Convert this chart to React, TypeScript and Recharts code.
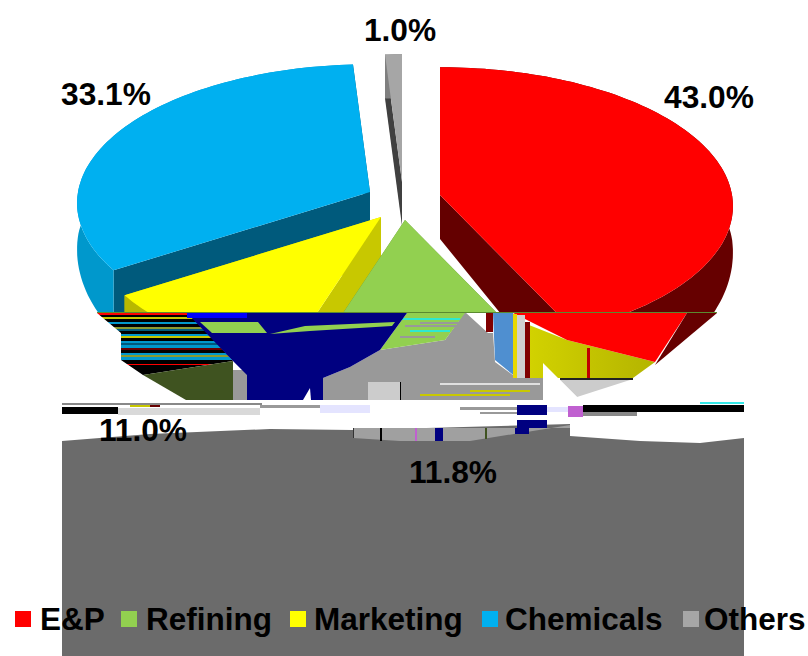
import { Legend, Pie, PieChart } from "recharts";

const sliceNames = ["Others", "Chemicals", "Marketing", "Refining", "E&P"];
const sliceValues = [1.0, 33.1, 11.0, 11.8, 43.0];
const legendOrder = ["E&P", "Refining", "Marketing", "Chemicals", "Others"];

const topColors: Record<string, string> = {
  "E&P": "#FF0000",
  Refining: "#92D050",
  Marketing: "#FFFF00",
  Chemicals: "#00B0F0",
  Others: "#A6A6A6",
};
const innerWallColors: Record<string, string> = {
  "E&P": "#640000",
  Refining: "#5F8A34",
  Marketing: "#C8C800",
  Chemicals: "#005A7C",
  Others: "#404040",
};
const outerWallColors: Record<string, string> = {
  "E&P": "#660000",
  Refining: "#6FA03C",
  Marketing: "#B8B800",
  Chemicals: "#0098CC",
  Others: "#7F7F7F",
};

// how far each slice is pulled out of the pie, in screen pixels
const explode: Record<string, [number, number]> = {
  "E&P": [37, 0],
  Refining: [2, 25],
  Marketing: [-22, 22],
  Chemicals: [-33, -3],
  Others: [-1, -13],
};

const labelSpots: Record<string, [number, number]> = {
  "E&P": [709, 108],
  Refining: [453, 483],
  Marketing: [143, 441],
  Chemicals: [106, 105],
  Others: [400, 41],
};

// left edges of the legend swatches and their names
const legendSwatchX = [15, 121, 290, 482, 683];
const legendTextX = [40, 146, 314, 505, 704];

const data = sliceNames.map((name, i) => ({ name, value: sliceValues[i], fill: topColors[name] }));

// perspective of the tilted disc
const RX = 292;
const RY = 138;
const PERSP = 0.08;
const DEPTH = 44;
const FRONT_DEPTH = 30;

function project(cx: number, cy: number, deg: number) {
  const a = (deg * Math.PI) / 180;
  const u = Math.cos(a);
  const v = -Math.sin(a);
  const s = 1 - PERSP * v;
  return [cx + (RX * u) / s, cy + (RY * v) / s];
}

const pts = (list: number[][]) => list.map((p) => `${p[0].toFixed(1)},${p[1].toFixed(1)}`).join(" ");

// the rim gets deeper towards the viewer
const sink = (list: number[][], oy: number) =>
  list.map((p) => [p[0], p[1] + DEPTH + (FRONT_DEPTH * Math.max(0, p[1] - oy)) / RY]);

function Slice3D(props: any) {
  const { cx, cy, startAngle, endAngle, name } = props;
  const [dx, dy] = explode[name];
  const ox = cx + dx;
  const oy = cy + dy;
  const from = Math.min(startAngle, endAngle);
  const to = Math.max(startAngle, endAngle);
  const arc: number[][] = [];
  for (let d = from; d < to; d += 1.5) arc.push(project(ox, oy, d));
  arc.push(project(ox, oy, to));
  const apex = [ox, oy];
  const first = arc[0];
  const last = arc[arc.length - 1];
  return (
    <g clipPath="url(#aboveTear)">
      <polygon points={pts([apex, first, ...sink([first, apex], oy)])} fill={innerWallColors[name]} />
      <polygon points={pts([apex, last, ...sink([last, apex], oy)])} fill={innerWallColors[name]} />
      <polygon points={pts([...arc, ...sink(arc, oy).reverse()])} fill={outerWallColors[name]} />
      <polygon points={pts([apex, ...arc])} fill={topColors[name]} />
    </g>
  );
}

function sliceLabel(props: any) {
  const [x, y] = labelSpots[props.name];
  return (
    <text x={x} y={y} textAnchor="middle" fontFamily="Liberation Sans" fontWeight="bold" fontSize={31.7} fill="#000">
      {`${props.value.toFixed(1)}%`}
    </text>
  );
}

function LegendRow() {
  return (
    <div style={{ position: "relative", width: 808, height: 38, fontFamily: "Liberation Sans", fontWeight: "bold", fontSize: 31.5, lineHeight: "38px", color: "#000", whiteSpace: "nowrap" }}>
      {legendOrder.map((name, i) => (
        <span key={name}>
          <span style={{ position: "absolute", left: legendSwatchX[i], top: 11, width: 16, height: 16, background: topColors[name] }} />
          <span style={{ position: "absolute", left: legendTextX[i], top: 0 }}>{name}</span>
        </span>
      ))}
    </div>
  );
}

// rows of the broken band under the left of the disc
const stripeRows: [number, number, string][] = [
  [313, 2, "#FF0000"], [315, 2, "#000000"], [317, 2, "#C8C800"], [319, 3, "#000000"], [322, 2, "#0098CC"],
  [324, 3, "#000000"], [327, 2, "#8A9A30"], [329, 2, "#005A7C"], [331, 3, "#000000"], [334, 2, "#0098CC"],
  [336, 2, "#C8C800"], [338, 3, "#000000"], [341, 2, "#0098CC"], [343, 2, "#005A7C"], [345, 3, "#0098CC"],
  [348, 2, "#660000"], [350, 3, "#000000"], [353, 2, "#0098CC"], [355, 2, "#8A9A30"], [357, 3, "#0098CC"],
  [360, 4, "#000000"], [364, 1, "#FF0000"], [365, 12, "#000000"],
];
const greenRows: [number, number, number, string][] = [
  [400, 318, 60, "#2FE8D0"], [405, 325, 55, "#999999"], [410, 330, 40, "#2FE8D0"], [420, 322, 45, "#999999"], [400, 336, 35, "#999999"],
];
const scatterBars: [number, number, number, number, string][] = [
  [62, 403, 200, 2, "#888888"], [62, 407, 56, 7, "#000000"], [118, 408, 142, 7, "#D9D9D9"], [130, 405, 20, 2, "#C8C800"],
  [150, 405, 10, 2, "#660000"], [260, 405, 60, 3, "#999999"], [320, 405, 50, 8, "#E4E4FF"], [460, 407, 57, 3, "#999999"],
  [480, 412, 37, 2, "#999999"], [517, 405, 30, 10, "#000080"], [517, 420, 30, 8, "#000080"], [547, 407, 21, 5, "#E4E4FF"],
  [568, 406, 15, 11, "#C060D0"], [583, 405, 161, 7, "#000000"], [583, 412, 54, 4, "#888888"], [700, 402, 44, 2, "#33E8E8"],
  [435, 428, 8, 13, "#000080"], [380, 428, 2, 13, "#000000"], [415, 428, 2, 13, "#C060D0"], [485, 428, 2, 11, "#3F5320"],
  [515, 428, 14, 6, "#000080"], [353, 428, 1, 10, "#333333"], [400, 382, 1, 18, "#000000"], [587, 348, 3, 30, "#C00000"],
  [517, 315, 8, 63, "#D0D0D0"], [513, 314, 4, 64, "#E8D800"], [525, 322, 5, 56, "#800000"], [486, 313, 7, 19, "#800000"],
  [560, 378, 73, 2, "#222222"], [440, 383, 100, 2, "#E0E0E0"], [470, 390, 60, 2, "#C8C800"], [420, 394, 90, 2, "#C8C800"],
];

function TornBand() {
  return (
    <g>
      <defs>
        <clipPath id="aboveTear">
          <rect x={0} y={0} width={808} height={312} />
        </clipPath>
        <clipPath id="stripeShape">
          <polygon points="97,313 190,313 233,361 143,375 121,360 121,333" />
        </clipPath>
        <linearGradient id="oliveFade" x1="0" y1="0" x2="1" y2="0">
          <stop offset="0" stopColor="#D2D200" />
          <stop offset="1" stopColor="#B4B400" />
        </linearGradient>
      </defs>
      <polygon points="62,441 150,434 270,429 352,430 570,424 570,436 640,441 700,443 744,438 744,656 62,656" fill="#6B6B6B" />
      <polygon points="353,428 570,428 570,425 470,441 400,441 353,438" fill="#A0A0A0" />
      <g clipPath="url(#stripeShape)">
        {stripeRows.map(([y, h, c]) => (
          <rect key={y} x={90} y={y} width={150} height={h} fill={c} />
        ))}
      </g>
      <polygon points="143,375 233,361 233,400 186,400" fill="#3F5320" />
      <polygon points="465,312 488,333 493,333 495,362 517,378 543,378 543,400 323,400 323,378 350,367 380,350 445,340" fill="#999999" />
      <polygon points="407,313 465,313 445,340 380,350" fill="#92D050" />
      {greenRows.map(([x, y, w, c]) => (
        <rect key={`${x}-${y}`} x={x} y={y} width={w} height={2} fill={c} />
      ))}
      <rect x={233} y={370} width={14} height={30} fill="#999999" />
      <polygon points="187,313 407,313 380,350 350,367 323,378 323,400 247,400 247,375 233,361" fill="#000080" />
      <rect x={187} y={313} width={60} height={5} fill="#0000FF" />
      <polygon points="200,322 258,322 267,333 212,333" fill="#92D050" />
      <polygon points="270,334 305,326 395,322 392,326 310,331" fill="#92D050" />
      <polygon points="303,400 310,388 311,400" fill="#FFFFFF" />
      <rect x={368} y={382} width={32} height={18} fill="#CCCCCC" />
      <polygon points="493,313 513,313 517,378 495,360" fill="#4F8FD0" />
      <polygon points="529,325 567,340 655,362 633,378 543,378 530,378" fill="url(#oliveFade)" />
      <polygon points="513,313 687,313 655,362 567,340" fill="#FF0000" />
      <polygon points="687,313 717,313 655,365" fill="#660000" />
      <polygon points="560,380 630,380 577,397" fill="#CCCCCC" />
      <polygon points="543,363 577,397 543,400" fill="#FFFFFF" />
      <rect x={97} y={312} width={620} height={1} fill="#5A8A30" />
      {scatterBars.map(([x, y, w, h, c]) => (
        <rect key={`${x}-${y}-${c}`} x={x} y={y} width={w} height={h} fill={c} />
      ))}
    </g>
  );
}

export default function App() {
  return (
    <div style={{ position: "absolute", left: 0, top: 0, width: 808, height: 656 }}>
      <PieChart width={808} height={656} margin={{ top: 0, right: 0, bottom: 0, left: 0 }}>
        <TornBand />
        <Pie
          data={data}
          dataKey="value"
          nameKey="name"
          cx={403}
          cy={195}
          outerRadius={100}
          startAngle={90}
          endAngle={450}
          paddingAngle={0}
          stroke="none"
          shape={Slice3D}
          label={sliceLabel}
          labelLine={false}
          isAnimationActive={false}
        />
        <Legend content={LegendRow} wrapperStyle={{ left: 0, top: 600, width: 808, bottom: "auto" }} />
      </PieChart>
    </div>
  );
}
